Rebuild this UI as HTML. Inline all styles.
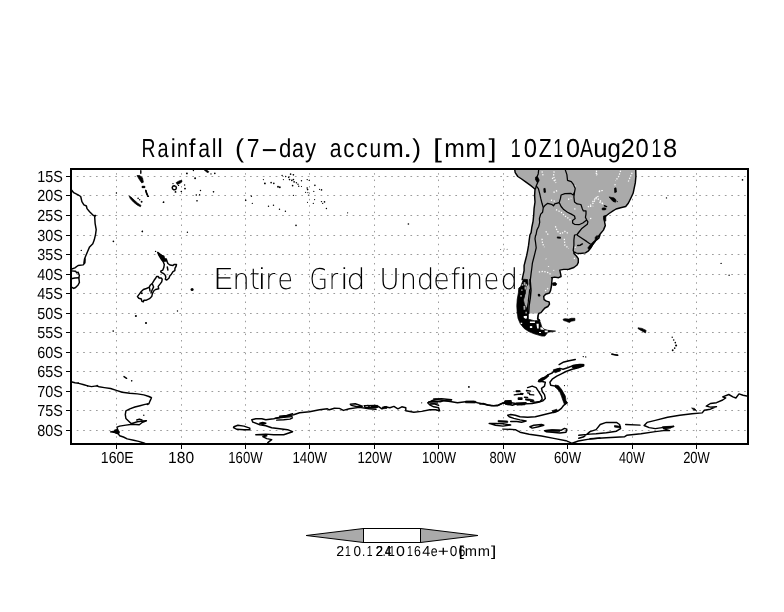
<!DOCTYPE html>
<html lang="en"><head><meta charset="utf-8"><title>Rainfall (7-day accum.) [mm] 10Z10Aug2018</title>
<style>html,body{margin:0;padding:0;background:#fff}body{width:784px;height:612px;overflow:hidden}svg{display:block}text{fill:#000;font-kerning:none;text-rendering:geometricPrecision}.lb{font-family:"Liberation Sans",sans-serif}.dl{font-family:"DejaVu Sans Light","DejaVu Sans","Liberation Sans",sans-serif;font-weight:200}.c{fill:none;stroke:#000;stroke-width:1.45;stroke-linejoin:round;stroke-linecap:round}.b{fill:none;stroke:#000;stroke-width:1.25;stroke-linejoin:round}.l{fill:#aaaaaa;stroke:none}.w{fill:none;stroke:#fff;stroke-width:1.25;stroke-dasharray:1.3 1.5}.k{fill:#000;stroke:#000;stroke-width:0.7;stroke-linejoin:round}.g{fill:none;stroke:#9c9c9c;stroke-width:1;stroke-dasharray:1.7 4.717}.gv{stroke-dasharray:1.5 4.917}</style></head><body>
<svg width="784" height="612" viewBox="0 0 784 612" style="will-change:transform">
<rect width="784" height="612" fill="#fff"/>
<defs><clipPath id="cp"><rect x="71" y="169" width="677" height="275"/></clipPath></defs>
<g class="g">
<path d="M71,176.5H748" stroke-dashoffset="-5.74"/>
<path d="M71,195.5H748" stroke-dashoffset="-5.74"/>
<path d="M71,215.5H748" stroke-dashoffset="-5.74"/>
<path d="M71,235.5H748" stroke-dashoffset="-5.74"/>
<path d="M71,254.5H748" stroke-dashoffset="-5.74"/>
<path d="M71,274.5H748" stroke-dashoffset="-5.74"/>
<path d="M71,293.5H748" stroke-dashoffset="-5.74"/>
<path d="M71,313.5H748" stroke-dashoffset="-5.74"/>
<path d="M71,332.5H748" stroke-dashoffset="-5.74"/>
<path d="M71,352.5H748" stroke-dashoffset="-5.74"/>
<path d="M71,371.5H748" stroke-dashoffset="-5.74"/>
<path d="M71,391.5H748" stroke-dashoffset="-5.74"/>
<path d="M71,410.5H748" stroke-dashoffset="-5.74"/>
<path d="M71,430.5H748" stroke-dashoffset="-5.74"/>
<path class="gv" d="M116.5,169V444" stroke-dashoffset="-4.16"/>
<path class="gv" d="M181.5,169V444" stroke-dashoffset="-4.16"/>
<path class="gv" d="M245.5,169V444" stroke-dashoffset="-4.16"/>
<path class="gv" d="M309.5,169V444" stroke-dashoffset="-4.16"/>
<path class="gv" d="M374.5,169V444" stroke-dashoffset="-4.16"/>
<path class="gv" d="M438.5,169V444" stroke-dashoffset="-4.16"/>
<path class="gv" d="M503.5,169V444" stroke-dashoffset="-4.16"/>
<path class="gv" d="M567.5,169V444" stroke-dashoffset="-4.16"/>
<path class="gv" d="M632.5,169V444" stroke-dashoffset="-4.16"/>
<path class="gv" d="M696.5,169V444" stroke-dashoffset="-4.16"/>
</g>
<g clip-path="url(#cp)">
<path class="l" d="M514.6,168.8 515.2,172.7 517.8,176.5 521.6,179 526,182.2 530.5,185.4 533.7,188 535,189.2 534.6,195.6 535,202 534.1,208.4 533.7,214.7 533.1,221.1 531.8,227.5 531.1,232.6 529.9,235 529.2,240.1 528.6,245.2 527.7,250.3 526.7,255.4 525.4,260.5 524.1,265.6 524.1,270.7 522.9,275.8 522.2,279.6 523.4,279.2 520.7,286.5 518.8,288.1 518.4,292.7 517.2,299.6 516.8,305.7 517.2,313.4 528.7,313.4 538.7,313.4 541,312.6 542.9,310.3 544.9,308 547.9,306.5 549.5,304.2 549.1,301.9 546.4,301.1 544.1,299.6 543.7,296.5 545.6,294.2 549.5,293 550.6,290.4 551.4,286.5 551.8,281.9 552.2,278.1 551.6,277.7 554.7,277.1 558.6,277.7 561.1,276.5 560.5,273.3 559.8,270.1 563.7,269.4 568.8,269.2 573.9,267.5 577.1,265 578.3,262.4 578.3,258.6 576.4,256 573.9,253.5 574.5,252.2 576.4,253.1 580.3,253.5 585.4,252.9 588.5,250.9 590.5,248.4 593,243.9 595.6,240.7 598.8,238.2 600,235 598.3,236.4 600.8,233.2 603.4,230.1 605.3,225.6 604.7,222.4 604,217.9 605.9,216 609.1,213.5 613,210.9 616.1,209 620.6,207.7 625.7,206.5 628.3,203.3 630.8,198.2 633.1,193.3 634,189.2 635.3,182.9 635.9,176.5 635.7,168.8Z"/>
<path class="w" d="M554.1,171.4 553.5,176.5 556,181.6"/>
<path class="w" d="M552.2,177.8 556,182.9"/>
<path class="w" d="M553.5,192.4 557.3,190.5"/>
<path class="w" d="M550.9,200.1 555.4,201.4"/>
<path class="w" d="M556,209.6 561.1,212.2 564.9,216 568.8,218.6 571.3,221.1"/>
<path class="w" d="M568.1,199.4 571.3,198.2"/>
<path class="w" d="M587.9,207.1 593,203.3 596.8,197.5 599.4,195.6"/>
<path class="w" d="M599.4,202 603.2,203.9"/>
<path class="w" d="M598.8,191.8 601.9,190.5"/>
<path class="w" d="M545.8,231.3 549,235.8"/>
<path class="w" d="M555.4,226.2 557.3,231.3 561.1,233.9 564.9,231.3 568.8,233.9"/>
<path class="w" d="M542,171.4 543.3,176.5"/>
<path class="w" d="M596.2,172.7 596.6,175.8"/>
<path class="w" d="M574.5,185.4 576.4,187.3"/>
<path class="w" d="M574.5,208.4 575.8,210.7"/>
<path class="w" d="M620.6,170.7 618.7,176.5 615.5,180.9"/>
<path class="w" d="M596.4,170.7 597,175.2"/>
<path class="w" d="M632.1,172.7 628.3,181.6"/>
<path class="w" d="M595.7,196.9 600.2,200.7 602.8,203.9"/>
<path class="w" d="M592.6,202 595.7,197.5"/>
<path class="w" d="M598.9,191.1 602.8,190.5"/>
<path class="w" d="M590,206.5 593.2,206.1"/>
<path class="w" d="M590,218.6 591.9,218.3"/>
<path class="w" d="M614.9,184.1 615.5,187.3"/>
<path class="w" d="M542,238.8 542.6,243.9 544.5,247.1"/>
<path class="w" d="M564.3,238.8 564.9,245.2 568.8,248.4"/>
<path class="w" d="M538.8,272 543.3,271.4 548.4,272.6 550.9,274.5"/>
<path class="w" d="M545.8,258.6 546.1,259.2"/>
<path class="w" d="M548.4,266.2 548.6,266.9"/>
<path class="w" d="M545.2,291.1 549,287.3"/>
<path class="w" d="M573.9,258 574.9,258.7"/>
<path class="w" d="M574.5,247.1 577.1,247.5"/>
<path class="w" d="M553.5,270.1 554,270.7"/>
<path class="b" d="M538.8,168.8 538.2,173.9 536.9,177.1 537.5,182.9 536.2,186 535.6,188.6 535,189.2"/>
<path class="b" d="M536.2,186 538.4,188.6 539.7,193.7 540.7,198.2 542,203.3 543.3,207.7 542.6,212.2 540.7,214.1 539.4,218.6 539.7,222.4 538.8,226.2 536.9,230.1 536,235 535.6,235 535,238.8 535.6,242.7 536.2,247.8 535,252.9 533.7,258 532.4,263.1 531.8,268.2 531.1,273.3 530.5,278.4 529.9,283.5 530.5,288.6 529.6,290 529.2,293.8 528.6,298.9 528,304 527.3,309.1 526.7,313.6"/>
<path class="b" d="M543.3,207.7 545.2,205.2 547.7,203.3 551.6,204.3 553.5,205.8 554.7,203.9 559.2,202.6"/>
<path class="b" d="M559.2,202.6 560.5,198.2 561.1,195 564.9,193.7 570.7,193.3 573.2,195 574.5,192.4"/>
<path class="b" d="M564.9,168.8 566.9,174.6 567.5,180.3 571.3,181.6 573.2,184.1 575.2,188.6 574.5,192.4 573.9,196.9 574.5,202 577.1,203.9 580.9,204.5 582.2,208.4 583.4,210.9 586,210.9 586,214.1 585.4,217.3 586.6,219.8"/>
<path class="b" d="M559.2,202.6 561.1,206.5 563.7,209.6 567.5,212.2 571.3,214.1 574.5,216 575.2,218.6 572.6,220.5 572.6,223 574.5,224.3 579,224.7 582.8,223 585.4,221.1 586.6,219.8 587.9,221.8 587.3,224.3 584.7,226.2 581.5,228.8 579,232 577.1,234.5 574.9,235 574.5,235 573.9,240.1 573.9,245.2 573.2,250.3 574,252.9"/>
<path class="b" d="M577.1,234.5 577.7,235.6 582.2,238.6 586.6,241.4 589.2,243.3 590.7,244.2"/>
<path class="c" d="M71.1,189.5 73.7,192.7 78.1,194.9 80.7,196.5 81.9,201.6 83.9,204.8 86.4,206 87,208.6 89.6,211.8 93.4,215.6 95.6,215.4 94.7,216.9 95.1,223.3 96.2,229.6 95.6,234.1 94.3,239.8 92.8,243.7 89.6,246.9 87.7,251.3 85.8,255.8 84.5,259 83.9,263.1 85.1,258.8 84.9,262.7 83.2,264.9 78.1,265.5 74.9,267.8 71.1,269.3"/>
<path class="c" d="M71.1,270.9 75.6,271.3 76.8,272.9 78.1,272.2 79.4,275.4 78.8,277.7 79.4,282.4 78.1,285 75.6,287.5 73.7,288.4 71.1,286.9"/>
<path class="c" d="M71.1,278.7 74.9,278 78.8,277.7"/>
<path class="c" d="M145.7,190.4 146.4,192.7 147.1,194.7"/>
<path class="c" d="M157.7,252.4 160.2,254.3 162.2,255.8 163.8,256.3 164.3,258.9 166.3,258.9 166.8,260.9 167.9,263.5 169.9,265 173,265.5 174,264.5 176.5,264.5 176,266.5 175,268.1 174.8,270.6 173,271.6 171.4,274.2 169.9,275.7 168.9,278.3 166.8,280 165.3,279.3 165.8,277.2 165.3,275.2 163.8,273.7 161.2,272.4 160.7,271.1 162.8,270.1 163.8,267.6 164.3,264.5 163.3,261.9 161.7,259.9 160.2,257.3 158.7,254.8 157.7,252.4"/>
<path class="c" d="M167.3,267 167.9,270.1"/>
<path class="c" d="M156.6,276.5 158.2,276.5 159.2,278 161.2,278 162.2,279.3 161.7,281.8 160.2,283.9 158.2,286.4 158.7,288.8 155.6,289.5 154.1,290.5 152.6,293.1 151.7,296.6 149.5,298.7 146.4,300.2 143.9,300.2 143.4,301.7 141.8,301.2 141.3,299 138.8,298.2 137.4,296.6 139.3,294.1 141.3,291.5 143.4,289.5 146.4,288.5 149,287.4 150.5,284.9 152.6,282.9 154.1,280.3 155.6,278.3 156.6,276.5"/>
<path class="c" d="M152.6,284.4 153.6,286.9 151.7,291 151,293.1"/>
<path class="c" d="M149.5,287.8 150,291"/>
<path class="c" d="M140.8,170.7 140.8,173.3"/>
<path class="c" d="M145.9,190.5 146.6,193.1 147.6,195.2"/>
<path class="c" d="M174.4,185.8 175.9,186.4 176.4,188 175.7,189.5 174,189.9 172.6,189 172.2,187.3 173.1,186 174.4,185.8"/>
<path class="c" d="M514.6,168.8 515.2,172.7 517.8,176.5 521.6,179 526,182.2 530.5,185.4 533.7,188 535,189.2 534.6,195.6 535,202 534.1,208.4 533.7,214.7 533.1,221.1 531.8,227.5 531.1,232.6 529.9,235 529.2,240.1 528.6,245.2 527.7,250.3 526.7,255.4 525.4,260.5 524.1,265.6 524.1,270.7 522.9,275.8 522.2,279.6"/>
<path class="c" d="M635.7,168.8 635.9,176.5 635.3,182.9 634,189.2 633.1,193.3 630.8,198.2 628.3,203.3 625.7,206.5 620.6,207.7 616.1,209 613,210.9 609.1,213.5 605.9,216 604,217.9 604.7,222.4 605.3,225.6 603.4,230.1 600.8,233.2 598.3,236.4 600,235 598.8,238.2 595.6,240.7 593,243.9 590.5,248.4 588.5,250.9 585.4,252.9 580.3,253.5 576.4,253.1 574.5,252.2 573.9,253.5 576.4,256 578.3,258.6 578.3,262.4 577.1,265 573.9,267.5 568.8,269.2 563.7,269.4 559.8,270.1 560.5,273.3 561.1,276.5 558.6,277.7 554.7,277.1 551.6,277.7 552.2,278.1 551.8,281.9 551.4,286.5 550.6,290.4 549.5,293 545.6,294.2 543.7,296.5 544.1,299.6 546.4,301.1 549.1,301.9 549.5,304.2 547.9,306.5 544.9,308 542.9,310.3 541,312.6 538.7,313.4 538,315.4 537.6,318.8 539.5,320.4"/>
<path class="c" d="M529.9,279.6 530.4,282.7 531,290.4 530.3,298 529.1,305.7 528.7,313.4"/>
<path class="c" d="M604.4,205.8 606.6,206.6"/>
<path class="c" d="M577.7,245.5 580.3,245.2 582.4,243.9"/>
<path class="c" d="M71.1,381.7 74.9,382.8 78.8,383.4 83.9,384.7 87.7,385.9 91.5,386.6 96.6,385.9 99.2,386.8 104.3,387.6 110.6,388.5 116.4,390.4 122.1,392.3 129.8,393.2 137.4,393.9 143.8,394.9 148.9,396.5 151.5,397.8 150.2,400.6 148.9,403.8 145.1,404.4 140,405.7 134.9,407 129.8,408.9 125.9,410.8 125.3,414.6 125.9,418.5 128.5,421 131.1,423.6 137.4,421.7 142.5,421 146.4,420.8 142.5,422.3 139.3,424.8 132.3,424.2 125.9,425.1 119.6,426.1 117,427.1 117.7,429.9 114.5,431.2 110.6,431.9 115.1,432.5 118.3,433.8 119.6,435.7 123.4,437 127.2,438.9 133.6,440.2 138.7,441.4 143.8,443 147.6,444.6"/>
<path class="c" d="M124,376.6 126.6,378.3"/>
<path class="c" d="M136.8,420 139.3,419.1 141.9,420"/>
<path class="c" d="M233.9,426.7 237.9,425.3 243.9,426.1 249.8,428.1 249.8,429.7 243.9,429.7 236.9,429.3 233.5,427.7 233.9,426.7"/>
<path class="c" d="M267.8,442.6 271.7,439.6 266.8,438.6 262.8,436.7 266.8,435.7 261.8,434.7 255.8,434.7 265.8,434.1 273.7,434.7 283.7,434.7 289.6,432.7 292.6,431.7 287.6,429.7 279.7,428.7 271.7,427.7 265.8,425.7 259.8,424.7 252.8,422.1 251.8,419.7 255.8,418.7 261.8,418.7 265.8,419.7 273.7,418.7 277.7,417.8 293.6,414.8 299.6,412.8 309.5,411.8 319.5,409.8 327.4,408.8 329.4,409.8 334.4,408.2 339.4,408.4 343.4,410.4 349.3,408.8 359.3,407.4 369.2,408.8 376,409.4"/>
<path class="c" d="M259.8,423.3 262.8,422.5 265.8,423.3 262.8,424.3 259.8,423.3"/>
<path class="c" d="M279.7,416.2 286.7,415.4 292.6,413.8"/>
<path class="c" d="M275.7,418.3 283.7,417.4 292,416.6"/>
<path class="c" d="M276.7,420.1 283.7,419.7 290,419.1 292.4,417.8"/>
<path class="c" d="M279.7,417.4 289.6,415.8"/>
<path class="c" d="M350.3,404.2 355.3,403.8 362.3,406.2 357.3,406.8 351.3,405.4 350.3,404.2"/>
<path class="c" d="M364.2,405.8 376,405.4 377.2,406.6 376,407.8 365.2,407.8 364.2,405.8"/>
<path class="c" d="M368,405.4 370,407.8 374,405.8 379,406.8 381.9,408.8 384.9,406.8 389.9,407.8 393.9,406.4 397.9,408.8 401.8,406.8 405.8,407.8 405.8,410.8 413.8,412.2 421.7,411.4 429.7,409.8 435.7,409.8 439.6,410.8 438.6,407.8 433.7,406.8 429.7,404.8 427.7,402.8 431.7,400.8 435.7,399.4 451.6,401.8 457.5,402.8 465.5,401.8 473.5,401.4 477.4,402.8 484.4,404.2 491.4,405.8 497.3,405.8 501.3,403.8 505.3,401.8 511.3,402.8 517.2,403.8 526,402.8"/>
<path class="c" d="M433.7,399 441.6,398.8 451.6,399.8"/>
<path class="c" d="M428.7,402 434.7,401 440,401.8 444.6,400.6 451.2,401"/>
<path class="c" d="M429.7,404.2 434.1,403.8 438.6,405.4"/>
<path class="c" d="M430.7,403 437.6,403"/>
<path class="c" d="M480,404.1 483.1,403.5 487.7,405 493.8,405.6 498.4,405 503,403 507.7,403.8 512.3,405.3 516.9,403.8 521.5,404.5 526.1,403.8 532.2,403.5 538.4,402.2 543,400.7 545.3,398.4 544.5,394.6 542.2,391.5 541.5,388.4 544.5,386.1 545.3,382.3 542.2,381.5 538.4,381.5 541.5,378.4 546.1,376.9 548.4,374.6 552.2,373 555.3,370 559.9,368.4 563,369.2 567.6,367.7 573.7,365.4 579.9,364.6 583.7,364.6 583.7,365.7 578.3,367.7 572.2,369.2 566,371.5 561.4,373.8 556.8,376.1 552.2,379.2 549.9,382.3 550.7,385.3 555.3,386.1 558.4,388.4 561.4,390.7 563,393.8 564.5,396.1 563.7,399.2 566.8,403 563.7,405.3 561.4,408.4 558.4,410.7 553.8,412.2 547.6,413.8 541.5,415.3 535.3,416.8 527.6,417.3 520,416.8 515.3,415.3 510.7,414.5 507.7,415.3 509.2,416.8 513.8,418.4 520,419.9 526.1,421 521.5,422.2 516.9,421.5 510.7,421.5"/>
<path class="c" d="M527.6,387.6 532.2,386.1 536.1,387.6 539.2,392.3 541.5,396.1 542.2,399.2 539.9,401.5 535.3,402.2 530.7,401.5"/>
<path class="c" d="M516.3,391 519.9,391"/>
<path class="c" d="M514.3,394.9 518.4,394.2 522.4,394.4"/>
<path class="c" d="M520.4,393.4 523,393.7"/>
<path class="c" d="M518.4,398 521.9,398 521.9,399.2 518.4,399.2 518.4,398"/>
<path class="c" d="M524.5,397.2 527.6,397.4"/>
<path class="c" d="M526.5,390.5 530.6,391.1"/>
<path class="c" d="M527.6,392.9 529.6,393.2"/>
<path class="c" d="M529.6,394.6 533.7,394.9"/>
<path class="c" d="M516.3,391.5 519.4,391.5"/>
<path class="c" d="M559.1,364.6 563,362.3 569.1,360.8 575.3,359.5"/>
<path class="c" d="M489.2,423.4 495.4,425.3 503,426.1 510.7,425 503,423.8 495.4,423.4 489.2,423.4"/>
<path class="c" d="M503,429.1 515.3,429.6 520,432.2 529.2,434.2 541.5,436 553.8,438.4 566,440.7 572.2,443.3 578.3,441 587.6,439.4 600,438"/>
<path class="c" d="M529.9,426.8 533.8,425.3 541.5,424.5 543.8,425.3 538.4,426.8 532.2,428.1 529.9,426.8"/>
<path class="c" d="M544.5,430.7 552.2,429.9 561.4,430.2 564.5,428.4 566.8,429.1 566,432.2 559.9,433 552.2,432.2 546.1,431.7 544.5,430.7"/>
<path class="c" d="M578.8,438.2 583.9,436.7 590,431.6 596.1,429.6 600.2,424.5 606.3,422.4 616.5,422.4 619.6,424.5 620.6,428.6 616.5,431.2 606.3,432.7 596.1,433.7 590,434.1 578.8,435.3"/>
<path class="c" d="M625.7,424.5 640,425.1"/>
<path class="c" d="M590,438.8 606.3,437.8 624.7,436.7 626.7,435.3 641,433.7 655.3,431.6 663.5,430.6 669.6,430.6 663.5,428.6 673.7,426.5 665.5,427.1 655.3,428.6 649.2,427.6 644.1,425.5 647.1,422.4 655.3,420.4 667.6,417.3 679.8,415.3 692,413.7 702.2,412.9 704.3,410.2 710.4,409.2 716.5,406.7 710.4,407.1 706.3,406.1 710.4,403.5 716.5,402.7 722.7,400 725.7,398 722.7,396.9 728.8,394.5 732.9,396.9 735.9,398 739,393.9 743.1,395.3 749.2,396.5"/>
<path class="c" d="M612,354.1 617.6,355.1"/>
<path class="c" d="M612,354.3 614.9,354.9 617.6,355.3"/>
<path class="k" d="M129.1,196 131.1,197.1 134.2,200.1 137.4,202.9 141,205.4 140.5,206.7 137.4,205.2 133.6,202.2 130.4,198.8Z"/>
<path class="k" d="M142.3,186.3 144.8,186.3 144.8,187.6 142.3,187.6Z"/>
<path class="k" d="M158.7,254.3 162.2,256.1 163.8,256.5 164.2,259 166.2,259.1 166.8,261 165.3,261.4 163.3,261.6 161.7,259.6 160.2,257.1Z"/>
<path class="k" d="M137,175.5 139.6,175.5 142.5,177.8 143.4,182.2 141.7,182.9 139.2,179.3Z"/>
<path class="k" d="M142.1,186.4 144.7,186.4 144.7,187.6 142.1,187.6Z"/>
<path class="k" d="M176.2,182.6 179.1,180.9 181.7,180.3 182,181.8 179.7,183.5 177.2,184.4Z"/>
<path class="k" d="M204.2,169.8 206.5,170.1 208.8,171.6 208.1,172.7 205.9,171.6Z"/>
<path class="k" d="M523.4,279.2 520.7,286.5 518.8,288.1 518.4,292.7 517.2,299.6 516.8,305.7 517.2,313.4 517.2,312.3 518,318.4 520.3,323.8 524.1,328.4 528.7,331.5 534.1,333.8 541.8,336.1 544.9,336.1 547.9,332.3 555.6,331.1 547.9,330.3 544.1,329.2 541.8,326.9 540.6,323 539.5,320.4 534.1,320.7 528.7,319.2 528.4,312.3 526.4,307.7 524.5,304.6 523.4,300 525.3,294.2 526,287.3 528,284.2 527.6,279.6Z"/>
<path class="k" d="M552.4,283 555.4,282.4 556.8,283.9 555.8,285.5 552.8,285.4Z"/>
<path class="k" d="M557.3,236.9 560.5,237.2 560.5,238.3 557.3,238.1Z"/>
<path class="k" d="M535.6,177.1 537.5,176.7 539.2,180.1 538.4,182.2 536.6,181.6 535.4,179.3Z"/>
<path class="k" d="M543.8,188.6 545.1,188.3 545.6,192.2 544,192.4Z"/>
<path class="k" d="M614.5,188.2 616,187.7 616.5,192 614.7,192.6Z"/>
<path class="k" d="M609.1,196.9 611.7,197.5 614.2,197.9 616.1,200.1 615.5,202.2 613,201.4 611,199.2Z"/>
<path class="k" d="M602.2,208.1 604.8,208.1 604.8,209.8 602.2,209.8Z"/>
<path class="k" d="M603.2,208.1 605.8,208.1 605.8,209.6 603.2,209.6Z"/>
<path class="k" d="M603.5,216 605.8,215.4 605.8,221.1 604,220.6Z"/>
<path class="k" d="M595.3,237.2 597.1,235.4 597.9,236.4 597.1,239.6 595.1,241Z"/>
<path class="k" d="M587.9,247.8 590.7,244.2 594.3,240.7 595.8,241.1 593,244.9 590.2,248.8 588.5,249.3Z"/>
<path class="k" d="M563,319.3 564.9,318.7 568.8,319.1 571.3,318.3 574.9,318.3 574.9,320.6 571.3,321.2 569.4,322.5 566.2,321.2 563.7,320.6Z"/>
<path class="k" d="M114.5,429.9 117.7,429.3 119.6,431.9 118.9,433.8 116.4,433.5 114.2,432.2Z"/>
<path class="k" d="M465.5,401 475.5,401.2 475.5,403 465.5,402.8Z"/>
<path class="k" d="M504.9,400.8 511.3,400.4 511.7,403.8 505.3,404.2Z"/>
<path class="k" d="M371,405.8 378,405.4 378,407.4 371,407.8Z"/>
<path class="k" d="M382.3,407 386.9,406.4 386.9,408.4 382.3,408.8Z"/>
<path class="k" d="M572.2,365.4 579.9,364.1 583.7,364.3 583.3,366.3 578.3,367.2 574.5,368.7 572.2,367.7Z"/>
<path class="k" d="M553.4,369.7 559.9,368.1 560.7,370.7 555.3,372.7 553.4,371.5Z"/>
<path class="k" d="M555,385 558.4,385.6 561.4,389.2 563.7,393.3 565.3,396.1 566,400.7 567.6,403 564.5,404.5 563,400.7 561.4,396.1 559.9,392.3 557.6,389.2 555,386.9Z"/>
<path class="k" d="M552.2,410.7 556.8,409.2 557.6,411.5 553.4,413Z"/>
<path class="k" d="M538.4,380 544.5,376.9 547.6,374.6 549.1,375.8 546.1,378.4 541.5,381.5 539.2,382Z"/>
<path class="k" d="M525.5,398.7 529.6,399.1 533.7,399.9 533.9,401.1 529.6,400.7 525.5,400.1Z"/>
<path class="k" d="M504.6,401 510.7,400.5 511.2,404.6 508.2,405.1 505.1,404.1Z"/>
<path class="k" d="M516.3,402.8 524.5,402.8 525,404.8 516.8,405.2Z"/>
<path class="k" d="M498.1,420.4 507.7,421 507.7,422.5 498.1,421.9Z"/>
<path class="k" d="M545.3,430.4 552.2,429.7 559.9,430.2 559.9,431.4 552.2,431.4 546.1,431.4Z"/>
<path class="k" d="M614.5,425.5 620.6,426.3 620.6,428 614.5,427.1Z"/>
<path class="k" d="M691.6,408 694.5,408.4 696.5,410.6 693.7,410Z"/>
<path class="k" d="M662.4,426.7 673.7,426.1 670.6,428.2 663.5,428.4Z"/>
<path class="k" d="M638,327.8 642,328.4 646.1,330.4 645.5,332.9 641,330.4 638.2,328.8Z"/>
<path class="l" d="M523.7,282.3 525.3,281.9 525.5,285 523.7,285.4Z"/>
<path class="l" d="M525.3,294.6 527.2,293.4 527.6,298 526,301.1 524.9,300.3Z"/>
<path class="l" d="M523.4,306.1 525.3,305.7 525.3,309.6 523.7,309.9Z"/>
<path class="l" d="M521.1,289.6 522.6,289.4 522.6,290.7 521.1,290.7Z"/>
<path class="l" d="M525.5,283.6 527,284.1 526.9,286.5 525.5,286.4Z"/>
<path class="l" d="M524.5,286.5 526.1,286.7 526,289.6 524.6,289.4Z"/>
<path class="l" d="M526.1,290.2 528.3,289.6 528.1,294.8 526.3,295.1Z"/>
<path class="l" d="M525.8,300.7 527.4,301 527.2,303.6 525.9,303.4Z"/>
<path class="l" d="M525.4,311.7 526.9,311.7 526.9,313.4 525.4,313.4Z"/>
<path class="l" d="M521.7,284.1 523.1,284.1 523.1,285.8 521.7,285.8Z"/>
<path class="l" d="M520.3,295.1 521.8,295.1 521.8,296.7 520.3,296.7Z"/>
<path d="M528.9,314 538.3,314 537.6,319 528.9,319Z" fill="#fff"/>
<path d="M529.9,321.5 534.9,321.5 534.9,323 529.9,323Z" fill="#fff"/>
<path d="M536.4,323.8 538.7,323.8 538.7,328.4 537.2,328.4Z" fill="#fff"/>
<path d="M529.9,326.1 532.2,326.1 532.2,328 529.9,328Z" fill="#fff"/>
<path d="M540.3,327.3 542.6,327.6 544.1,330 540.6,329.6Z" fill="#fff"/>
<path d="M544.5,330.6 547.9,330.6 547.6,332.3 544.9,332.3Z" fill="#fff"/>
<path d="M523.7,316.1 526.8,316.1 526.8,318.4 525.3,318.8 523.7,317.5Z" fill="#fff"/>
<path d="M520.7,322.7 522.2,322.7 522.2,324 520.7,324Z" fill="#fff"/>
<path d="M525.7,315.7 526.8,316.1 526.4,318 524.5,317.6Z" fill="#fff"/>
<path d="M539.1,331.9 541,331.9 541,333 539.1,333Z" fill="#fff"/>
<path class="c" d="M538.7,313.8 538,315.4 537.6,318.8 539.5,320.4"/>
<circle cx="81.3" cy="250.4" r="0.71"/>
<circle cx="138.1" cy="198.3" r="0.83"/>
<circle cx="139.7" cy="199.7" r="0.71"/>
<circle cx="141.6" cy="201.7" r="0.94"/>
<circle cx="163.6" cy="202.2" r="0.83"/>
<circle cx="142.3" cy="231.6" r="0.83"/>
<circle cx="113.4" cy="241.4" r="0.83"/>
<circle cx="116.4" cy="192.9" r="0.71"/>
<circle cx="147.6" cy="196.2" r="0.71"/>
<circle cx="155.6" cy="251.4" r="0.71"/>
<circle cx="141.8" cy="293.3" r="0.94"/>
<circle cx="192.1" cy="289.5" r="1.53"/>
<circle cx="135.9" cy="316" r="1.06"/>
<circle cx="146" cy="323" r="1.06"/>
<circle cx="113.2" cy="331.1" r="0.83"/>
<circle cx="148.4" cy="196.4" r="0.71"/>
<circle cx="163.4" cy="202.4" r="0.71"/>
<circle cx="142.4" cy="231.3" r="0.71"/>
<circle cx="187.4" cy="232.3" r="0.71"/>
<circle cx="173" cy="183.6" r="0.71"/>
<circle cx="175.5" cy="191.9" r="0.94"/>
<circle cx="181.3" cy="191.5" r="0.83"/>
<circle cx="184.6" cy="185" r="0.71"/>
<circle cx="185" cy="188.6" r="0.94"/>
<circle cx="178.5" cy="185.4" r="0.71"/>
<circle cx="186.9" cy="173.4" r="0.94"/>
<circle cx="193.4" cy="170.5" r="0.71"/>
<circle cx="195.1" cy="178.3" r="0.94"/>
<circle cx="211" cy="173.9" r="0.71"/>
<circle cx="214.8" cy="173.4" r="0.83"/>
<circle cx="196.3" cy="195" r="0.83"/>
<circle cx="199.6" cy="194.7" r="0.71"/>
<circle cx="200.5" cy="190.5" r="0.71"/>
<circle cx="213.5" cy="191.8" r="0.83"/>
<circle cx="197" cy="200.8" r="0.83"/>
<circle cx="263.4" cy="179.6" r="0.59"/>
<circle cx="264.9" cy="183.4" r="0.94"/>
<circle cx="271.1" cy="182.7" r="0.83"/>
<circle cx="273.8" cy="183.4" r="0.83"/>
<circle cx="278" cy="186.8" r="0.94"/>
<circle cx="279.8" cy="187.3" r="0.94"/>
<circle cx="282.1" cy="175.4" r="0.71"/>
<circle cx="283.4" cy="179.6" r="0.59"/>
<circle cx="285.7" cy="176.5" r="0.71"/>
<circle cx="288.7" cy="177.3" r="0.83"/>
<circle cx="289.5" cy="179.6" r="0.83"/>
<circle cx="290.6" cy="174.2" r="0.83"/>
<circle cx="293.4" cy="174.8" r="0.83"/>
<circle cx="291.8" cy="180.4" r="0.83"/>
<circle cx="293.4" cy="179.6" r="0.83"/>
<circle cx="294.1" cy="181.9" r="0.83"/>
<circle cx="292.6" cy="185.7" r="0.83"/>
<circle cx="296.4" cy="182.7" r="0.71"/>
<circle cx="298" cy="184.2" r="0.71"/>
<circle cx="298.7" cy="186.2" r="0.71"/>
<circle cx="301.5" cy="180.8" r="0.71"/>
<circle cx="301.5" cy="186.5" r="0.59"/>
<circle cx="307.2" cy="179.6" r="0.71"/>
<circle cx="309.2" cy="180.4" r="0.59"/>
<circle cx="307.2" cy="188" r="0.83"/>
<circle cx="307.6" cy="189.6" r="0.83"/>
<circle cx="305.6" cy="192.3" r="0.59"/>
<circle cx="307.9" cy="192.6" r="0.59"/>
<circle cx="308.7" cy="195" r="0.59"/>
<circle cx="313.8" cy="191.4" r="0.59"/>
<circle cx="314.9" cy="185.3" r="0.83"/>
<circle cx="319.5" cy="189.3" r="0.59"/>
<circle cx="321.5" cy="189.9" r="0.83"/>
<circle cx="293.4" cy="195.4" r="0.59"/>
<circle cx="251.4" cy="196.2" r="0.71"/>
<circle cx="245.7" cy="200.3" r="0.83"/>
<circle cx="252.3" cy="203.4" r="0.59"/>
<circle cx="268.5" cy="206.2" r="0.71"/>
<circle cx="273.5" cy="205.2" r="0.71"/>
<circle cx="279.5" cy="209.2" r="0.71"/>
<circle cx="285.4" cy="211.2" r="0.71"/>
<circle cx="296" cy="225.4" r="0.83"/>
<circle cx="307.5" cy="202.3" r="0.59"/>
<circle cx="313.3" cy="203.4" r="0.59"/>
<circle cx="314.6" cy="199.6" r="0.59"/>
<circle cx="321.5" cy="201.6" r="0.71"/>
<circle cx="322.7" cy="203.4" r="0.59"/>
<circle cx="324.5" cy="201.9" r="0.83"/>
<circle cx="326.4" cy="208.5" r="0.71"/>
<circle cx="347.6" cy="212.8" r="0.59"/>
<circle cx="408.4" cy="224" r="0.83"/>
<circle cx="500.7" cy="249.5" r="0.47"/>
<circle cx="504.1" cy="249" r="0.47"/>
<circle cx="507.1" cy="249.3" r="0.47"/>
<circle cx="538.9" cy="294.9" r="1.18"/>
<circle cx="539.2" cy="295.4" r="1.18"/>
<circle cx="666.5" cy="197.9" r="0.71"/>
<circle cx="617.2" cy="201.6" r="0.59"/>
<circle cx="131.7" cy="380.8" r="0.83"/>
<circle cx="143.8" cy="415.3" r="0.71"/>
<circle cx="87.7" cy="385.9" r="0.83"/>
<circle cx="97.2" cy="385.6" r="0.83"/>
<circle cx="78.1" cy="382.8" r="0.71"/>
<circle cx="147.6" cy="404.2" r="0.94"/>
<circle cx="150.8" cy="397.4" r="0.83"/>
<circle cx="421.7" cy="402.8" r="0.59"/>
<circle cx="468.9" cy="386.9" r="0.94"/>
<circle cx="583.3" cy="356.6" r="0.71"/>
<circle cx="585.7" cy="356.9" r="0.71"/>
<circle cx="564.5" cy="385.6" r="0.59"/>
<circle cx="672.2" cy="337.3" r="0.71"/>
<circle cx="673.7" cy="340" r="0.83"/>
<circle cx="675.3" cy="342.7" r="0.83"/>
<circle cx="676.1" cy="345.5" r="1.06"/>
<circle cx="674.7" cy="348.2" r="0.83"/>
<circle cx="672.7" cy="350.2" r="0.94"/>
<circle cx="742.5" cy="179.9" r="0.83"/>
<circle cx="721.1" cy="263.4" r="0.71"/>
<circle cx="729.1" cy="275.3" r="0.71"/>
<circle cx="177.5" cy="311" r="0.71"/>
</g>
<rect x="71" y="169" width="677" height="275" fill="none" stroke="#000" stroke-width="2" shape-rendering="crispEdges"/>
<g stroke="#000" stroke-width="1" shape-rendering="crispEdges">
<path d="M66,176.5H71"/>
<path d="M66,195.5H71"/>
<path d="M66,215.5H71"/>
<path d="M66,235.5H71"/>
<path d="M66,254.5H71"/>
<path d="M66,274.5H71"/>
<path d="M66,293.5H71"/>
<path d="M66,313.5H71"/>
<path d="M66,332.5H71"/>
<path d="M66,352.5H71"/>
<path d="M66,371.5H71"/>
<path d="M66,391.5H71"/>
<path d="M66,410.5H71"/>
<path d="M66,430.5H71"/>
<path d="M116.5,444V449"/>
<path d="M181.5,444V449"/>
<path d="M245.5,444V449"/>
<path d="M309.5,444V449"/>
<path d="M374.5,444V449"/>
<path d="M438.5,444V449"/>
<path d="M503.5,444V449"/>
<path d="M567.5,444V449"/>
<path d="M632.5,444V449"/>
<path d="M696.5,444V449"/>
</g>
<g>
<text class="lb" font-size="16" transform="matrix(0.8986 0 0 1 37.28 182)">15S</text>
<text class="lb" font-size="16" transform="matrix(0.8986 0 0 1 37.28 201)">20S</text>
<text class="lb" font-size="16" transform="matrix(0.8986 0 0 1 37.28 221)">25S</text>
<text class="lb" font-size="16" transform="matrix(0.8986 0 0 1 37.28 241)">30S</text>
<text class="lb" font-size="16" transform="matrix(0.8986 0 0 1 37.28 260)">35S</text>
<text class="lb" font-size="16" transform="matrix(0.8986 0 0 1 37.28 280)">40S</text>
<text class="lb" font-size="16" transform="matrix(0.8986 0 0 1 37.28 299)">45S</text>
<text class="lb" font-size="16" transform="matrix(0.8986 0 0 1 37.28 319)">50S</text>
<text class="lb" font-size="16" transform="matrix(0.8986 0 0 1 37.28 338)">55S</text>
<text class="lb" font-size="16" transform="matrix(0.8986 0 0 1 37.28 358)">60S</text>
<text class="lb" font-size="16" transform="matrix(0.8986 0 0 1 37.28 377)">65S</text>
<text class="lb" font-size="16" transform="matrix(0.8986 0 0 1 37.28 397)">70S</text>
<text class="lb" font-size="16" transform="matrix(0.8986 0 0 1 37.28 416)">75S</text>
<text class="lb" font-size="16" transform="matrix(0.8986 0 0 1 37.28 436)">80S</text>
</g>
<g>
<text class="lb" font-size="16" transform="matrix(0.8798 0 0 1 100.83 463)">160E</text>
<text class="lb" font-size="16" transform="matrix(0.9738 0 0 1 168.11 463)">180</text>
<text class="lb" font-size="16" transform="matrix(0.8193 0 0 1 228.30 463)">160W</text>
<text class="lb" font-size="16" transform="matrix(0.8291 0 0 1 292.39 463)">140W</text>
<text class="lb" font-size="16" transform="matrix(0.8242 0 0 1 357.40 463)">120W</text>
<text class="lb" font-size="16" transform="matrix(0.8168 0 0 1 421.90 463)">100W</text>
<text class="lb" font-size="16" transform="matrix(0.8087 0 0 1 489.44 463)">80W</text>
<text class="lb" font-size="16" transform="matrix(0.8211 0 0 1 554.03 463)">60W</text>
<text class="lb" font-size="16" transform="matrix(0.7852 0 0 1 619.01 463)">40W</text>
<text class="lb" font-size="16" transform="matrix(0.8115 0 0 1 683.15 463)">20W</text>
</g>
<text class="lb" font-size="26" transform="matrix(0.86 0 0 1 0 157)"><tspan x="164.5" textLength="16.26" lengthAdjust="spacingAndGlyphs">R</tspan><tspan x="183.2" textLength="12.84" lengthAdjust="spacingAndGlyphs">a</tspan><tspan x="198.7" textLength="5.88" lengthAdjust="spacingAndGlyphs">i</tspan><tspan x="205.7" textLength="12.64" lengthAdjust="spacingAndGlyphs">n</tspan><tspan x="219.4" textLength="7.80" lengthAdjust="spacingAndGlyphs">f</tspan><tspan x="230.6" textLength="13.72" lengthAdjust="spacingAndGlyphs">a</tspan><tspan x="246.3" textLength="5.58" lengthAdjust="spacingAndGlyphs">l</tspan><tspan x="252.7" textLength="6.47" lengthAdjust="spacingAndGlyphs">l</tspan><tspan x="259.2"> </tspan><tspan x="273.2" textLength="10.52" lengthAdjust="spacingAndGlyphs">(</tspan><tspan x="286.9" textLength="14.79" lengthAdjust="spacingAndGlyphs">7</tspan><tspan x="302.9" textLength="20.62" lengthAdjust="spacingAndGlyphs">-</tspan><tspan x="324.5" textLength="14.38" lengthAdjust="spacingAndGlyphs">d</tspan><tspan x="339.6" textLength="13.85" lengthAdjust="spacingAndGlyphs">a</tspan><tspan x="354.6" textLength="12.90" lengthAdjust="spacingAndGlyphs">y</tspan><tspan x="367.5"> </tspan><tspan x="383.5" textLength="13.72" lengthAdjust="spacingAndGlyphs">a</tspan><tspan x="399.0" textLength="12.95" lengthAdjust="spacingAndGlyphs">c</tspan><tspan x="414.6" textLength="12.95" lengthAdjust="spacingAndGlyphs">c</tspan><tspan x="429.7" textLength="13.55" lengthAdjust="spacingAndGlyphs">u</tspan><tspan x="444.9" textLength="24.74" lengthAdjust="spacingAndGlyphs">m</tspan><tspan x="468.5" textLength="10.86" lengthAdjust="spacingAndGlyphs">.</tspan><tspan x="479.4" textLength="10.22" lengthAdjust="spacingAndGlyphs">)</tspan><tspan x="489.6"> </tspan><tspan x="503.4" textLength="10.40" lengthAdjust="spacingAndGlyphs">[</tspan><tspan x="516.7" textLength="23.92" lengthAdjust="spacingAndGlyphs">m</tspan><tspan x="541.2" textLength="23.78" lengthAdjust="spacingAndGlyphs">m</tspan><tspan x="568.1" textLength="9.27" lengthAdjust="spacingAndGlyphs">]</tspan><tspan x="577.4"> </tspan><tspan x="593.8" textLength="11.57" lengthAdjust="spacingAndGlyphs">1</tspan><tspan x="609.1" textLength="15.42" lengthAdjust="spacingAndGlyphs">0</tspan><tspan x="626.4" textLength="15.04" lengthAdjust="spacingAndGlyphs">Z</tspan><tspan x="643.4" textLength="11.57" lengthAdjust="spacingAndGlyphs">1</tspan><tspan x="658.0" textLength="16.37" lengthAdjust="spacingAndGlyphs">0</tspan><tspan x="674.4" textLength="15.21" lengthAdjust="spacingAndGlyphs">A</tspan><tspan x="689.9" textLength="16.75" lengthAdjust="spacingAndGlyphs">u</tspan><tspan x="706.4" textLength="15.53" lengthAdjust="spacingAndGlyphs">g</tspan><tspan x="721.7" textLength="16.32" lengthAdjust="spacingAndGlyphs">2</tspan><tspan x="739.1" textLength="15.42" lengthAdjust="spacingAndGlyphs">0</tspan><tspan x="757.5" textLength="11.57" lengthAdjust="spacingAndGlyphs">1</tspan><tspan x="770.8" textLength="16.54" lengthAdjust="spacingAndGlyphs">8</tspan></text>
<text class="dl" font-size="28.8" transform="matrix(0.88 0 0 1 0 289)"><tspan x="241.4" textLength="24.74" lengthAdjust="spacingAndGlyphs">E</tspan><tspan x="264.2" textLength="19.53" lengthAdjust="spacingAndGlyphs">n</tspan><tspan x="283.7" textLength="11.44" lengthAdjust="spacingAndGlyphs">t</tspan><tspan x="291.9" textLength="11.95" lengthAdjust="spacingAndGlyphs">i</tspan><tspan x="301.8" textLength="11.21" lengthAdjust="spacingAndGlyphs">r</tspan><tspan x="315.3" textLength="17.61" lengthAdjust="spacingAndGlyphs">e</tspan><tspan x="333.0"> </tspan><tspan x="351.7" textLength="20.92" lengthAdjust="spacingAndGlyphs">G</tspan><tspan x="373.8" textLength="10.42" lengthAdjust="spacingAndGlyphs">r</tspan><tspan x="385.7" textLength="11.25" lengthAdjust="spacingAndGlyphs">i</tspan><tspan x="393.8" textLength="21.59" lengthAdjust="spacingAndGlyphs">d</tspan><tspan x="415.4"> </tspan><tspan x="430.9" textLength="23.40" lengthAdjust="spacingAndGlyphs">U</tspan><tspan x="454.2" textLength="19.53" lengthAdjust="spacingAndGlyphs">n</tspan><tspan x="473.7" textLength="19.96" lengthAdjust="spacingAndGlyphs">d</tspan><tspan x="492.4" textLength="18.68" lengthAdjust="spacingAndGlyphs">e</tspan><tspan x="511.9" textLength="10.82" lengthAdjust="spacingAndGlyphs">f</tspan><tspan x="521.1" textLength="11.25" lengthAdjust="spacingAndGlyphs">i</tspan><tspan x="529.6" textLength="19.53" lengthAdjust="spacingAndGlyphs">n</tspan><tspan x="549.3" textLength="17.92" lengthAdjust="spacingAndGlyphs">e</tspan><tspan x="568.9" textLength="19.96" lengthAdjust="spacingAndGlyphs">d</tspan></text>
<g stroke="#000" stroke-width="1" stroke-linejoin="miter"><path d="M306.2,535.5 363.5,528.5V542.5Z" fill="#aaaaaa"/><path d="M363.5,528.5H420.5V542.5H363.5Z" fill="#fff" shape-rendering="crispEdges"/><path d="M477.9,535.5 420.5,528.5V542.5Z" fill="#aaaaaa"/></g>
<g><text class="lb" font-size="14.5" transform="matrix(0.9 0 0 1 0 556)"><tspan x="373.5" textLength="8.82" lengthAdjust="spacingAndGlyphs">2</tspan><tspan x="383.4" textLength="6.45" lengthAdjust="spacingAndGlyphs">1</tspan><tspan x="392.9" textLength="8.40" lengthAdjust="spacingAndGlyphs">0</tspan><tspan x="402.1" textLength="3.57" lengthAdjust="spacingAndGlyphs">.</tspan><tspan x="407.4" textLength="6.45" lengthAdjust="spacingAndGlyphs">1</tspan><tspan x="417.4" textLength="8.27" lengthAdjust="spacingAndGlyphs">2</tspan><tspan x="427.6" textLength="6.45" lengthAdjust="spacingAndGlyphs">4</tspan></text><text class="lb" font-size="14.5" transform="matrix(0.9 0 0 1 0 556)"><tspan x="417.5" textLength="7.87" lengthAdjust="spacingAndGlyphs">2</tspan><tspan x="425.1" textLength="3.57" lengthAdjust="spacingAndGlyphs">.</tspan><tspan x="428.3" textLength="6.45" lengthAdjust="spacingAndGlyphs">4</tspan><tspan x="432.3" textLength="6.45" lengthAdjust="spacingAndGlyphs">1</tspan><tspan x="440.1" textLength="9.95" lengthAdjust="spacingAndGlyphs">0</tspan><tspan x="452.1" textLength="6.45" lengthAdjust="spacingAndGlyphs">1</tspan><tspan x="460.0" textLength="7.63" lengthAdjust="spacingAndGlyphs">6</tspan><tspan x="469.2" textLength="8.95" lengthAdjust="spacingAndGlyphs">4</tspan><tspan x="478.7" textLength="7.64" lengthAdjust="spacingAndGlyphs">e</tspan><tspan x="486.4" textLength="12.29" lengthAdjust="spacingAndGlyphs">+</tspan><tspan x="499.6" textLength="8.40" lengthAdjust="spacingAndGlyphs">0</tspan><tspan x="509.5" textLength="7.63" lengthAdjust="spacingAndGlyphs">6</tspan></text><text class="lb" font-size="14.5" transform="matrix(0.9 0 0 1 0 556)"><tspan x="509.4" textLength="6.06" lengthAdjust="spacingAndGlyphs">[</tspan><tspan x="516.4" textLength="13.61" lengthAdjust="spacingAndGlyphs">m</tspan><tspan x="530.8" textLength="13.61" lengthAdjust="spacingAndGlyphs">m</tspan><tspan x="545.7" textLength="5.90" lengthAdjust="spacingAndGlyphs">]</tspan></text></g>
</svg></body></html>
